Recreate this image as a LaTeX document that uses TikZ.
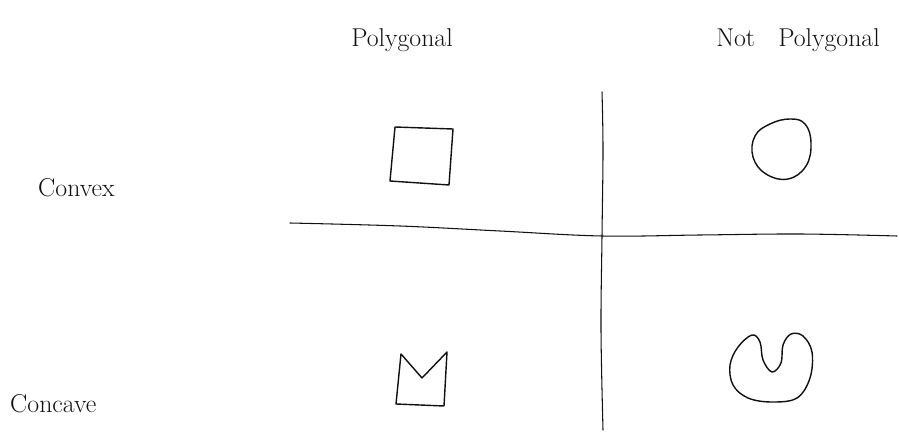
\documentclass[tikz,border=0pt]{standalone}
\usepackage{fontspec}
\usepackage{xcolor}
\usepackage{tikz}
\usetikzlibrary{positioning}
\definecolor{ink}{HTML}{111111}

\begin{document}
\begin{tikzpicture}[x=0.03cm, y=-0.03cm,
    sketch/.style={draw=ink, line width=1.2pt, line cap=round, line join=round},
    axisline/.style={draw=ink, line width=0.9pt, line cap=round},
    heading/.style={font=\fontsize{22}{24}\selectfont, text=ink, inner sep=0pt},
    rowlabel/.style={font=\fontsize{22}{24}\selectfont, text=ink, inner sep=0pt, anchor=west}]
    \useasboundingbox (0,0) rectangle (899,432);

    % headings and row labels
    \node[heading] (poly) at (402,40) {Polygonal};
    \node[heading] (notpoly) at (798,40) {Not\hspace{0.9em}Polygonal};
    \node[rowlabel] (convex) at (38,188) {Convex};
    \node[rowlabel] (concave) at (10,404) {Concave};

    % the two axes
    \coordinate (hleft) at (290,223);
    \coordinate (hright) at (897,236);
    \coordinate (vtop) at (602,92);
    \coordinate (vbottom) at (603,430);
    \draw[axisline] plot[smooth, tension=0.6] coordinates
        {(hleft) (400,226) (500,231) (602,236) (700,235) (800,234) (hright)};
    \draw[axisline] plot[smooth, tension=0.6] coordinates
        {(vtop) (603,150) (602,236) (601,330) (vbottom)};

    % convex polygon
    \draw[sketch] (395,127) -- (453,129) -- (449,185) -- (390,181) -- cycle;
    % convex, not polygonal
    \draw[sketch] plot[smooth cycle, tension=0.7] coordinates
        {(770,124) (790,119) (805,124) (811,143) (806,166) (788,179) (766,174) (753,157) (755,136)};
    % concave polygon
    \draw[sketch] (401,354) -- (422,378) -- (447,352) -- (444,406) -- (396,404) -- cycle;
    % concave, not polygonal
    \draw[sketch] plot[smooth cycle, tension=0.6] coordinates
        {(752,335) (760,342) (763,360) (772,372) (781,363) (783,345) (791,334) (803,336)
         (812,352) (810,378) (797,398) (772,402) (748,398) (733,385) (730,365) (738,347)};
\end{tikzpicture}
\end{document}
